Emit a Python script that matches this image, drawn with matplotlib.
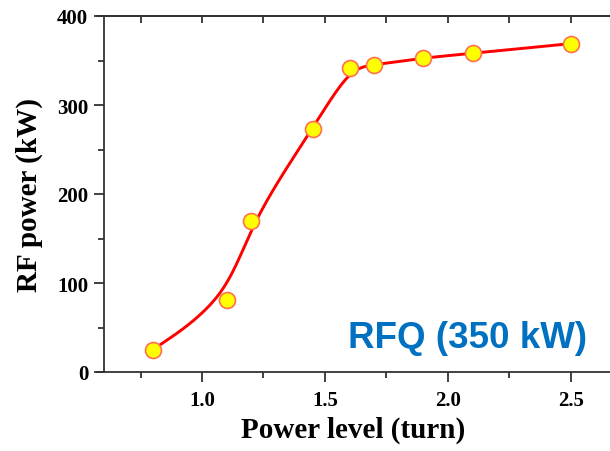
import numpy as np
import matplotlib
matplotlib.use("Agg")
import matplotlib.pyplot as plt

# measured points (power level in turns, RF power in kW)
turns = [0.8, 1.1, 1.2, 1.45, 1.6, 1.7, 1.9, 2.1, 2.5]
rf_kw = [25, 81, 170, 273, 342, 345, 353, 358, 369]


def bspline(px, py, n=40):
    # uniform cubic B-spline, end points tripled so the curve starts/ends on them
    px = [px[0]] * 2 + list(px) + [px[-1]] * 2
    py = [py[0]] * 2 + list(py) + [py[-1]] * 2
    s = np.linspace(0, 1, n)
    b0 = (1 - s) ** 3 / 6
    b1 = (3 * s**3 - 6 * s**2 + 4) / 6
    b2 = (-3 * s**3 + 3 * s**2 + 3 * s + 1) / 6
    b3 = s**3 / 6
    xs, ys = [], []
    for i in range(len(px) - 3):
        xs.append(b0 * px[i] + b1 * px[i + 1] + b2 * px[i + 2] + b3 * px[i + 3])
        ys.append(b0 * py[i] + b1 * py[i + 1] + b2 * py[i + 2] + b3 * py[i + 3])
    return np.concatenate(xs), np.concatenate(ys)


serif = "Liberation Serif"

fig = plt.figure(figsize=(6.1, 4.52), dpi=100)
ax = fig.add_axes([97 / 610, 79 / 452, 513 / 610, (373 - 17) / 452])

cx, cy = bspline(turns, rf_kw)
ax.plot(cx, cy, color="#ff0000", lw=2.1, zorder=2)
ax.plot(turns, rf_kw, "o", ms=11.5, mfc="#ffff00", mec="#ff7050", mew=1.2, zorder=3)

ax.set_xlim(0.573, 2.659)
ax.set_ylim(0, 400)
ax.spines["left"].set_position(("data", 0.6))
ax.spines["right"].set_visible(False)
for s in ax.spines.values():
    s.set_linewidth(1.3)
    s.set_color("#333333")

ax.set_xticks([1.0, 1.5, 2.0, 2.5])
ax.set_xticks(np.arange(0.75, 2.6, 0.25), minor=True)
ax.set_yticks([0, 100, 200, 300, 400])
ax.set_yticks(np.arange(0, 401, 50), minor=True)
ax.tick_params(which="major", length=7, width=1.3, color="#333333", pad=4)
ax.tick_params(which="minor", length=4, width=1.3, color="#333333")
ax.tick_params(axis="x", pad=6)
for lab in ax.get_xticklabels() + ax.get_yticklabels():
    lab.set_fontfamily(serif)
    lab.set_fontweight("bold")
    lab.set_fontsize(15)

# ticks on the top edge point inward
top = ax.secondary_xaxis("top")
top.set_xticks([1.0, 1.5, 2.0, 2.5])
top.set_xticks(np.arange(0.75, 2.6, 0.25), minor=True)
top.tick_params(which="both", direction="in", length=5, width=1.3, color="#333333", labeltop=False)
top.spines["top"].set_linewidth(1.3)
top.spines["top"].set_color("#333333")

ax.set_xlabel("Power level (turn)", fontfamily=serif, fontweight="bold", fontsize=21, labelpad=4)
ax.set_ylabel("RF power (kW)", fontfamily=serif, fontweight="bold", fontsize=21, labelpad=10)

ax.text(2.081, 39, "RFQ (350 kW)", color="#0070c0", fontfamily="Liberation Sans",
        fontweight="bold", fontsize=26.5, ha="center", va="center")

fig.savefig("out.png", dpi=100)
